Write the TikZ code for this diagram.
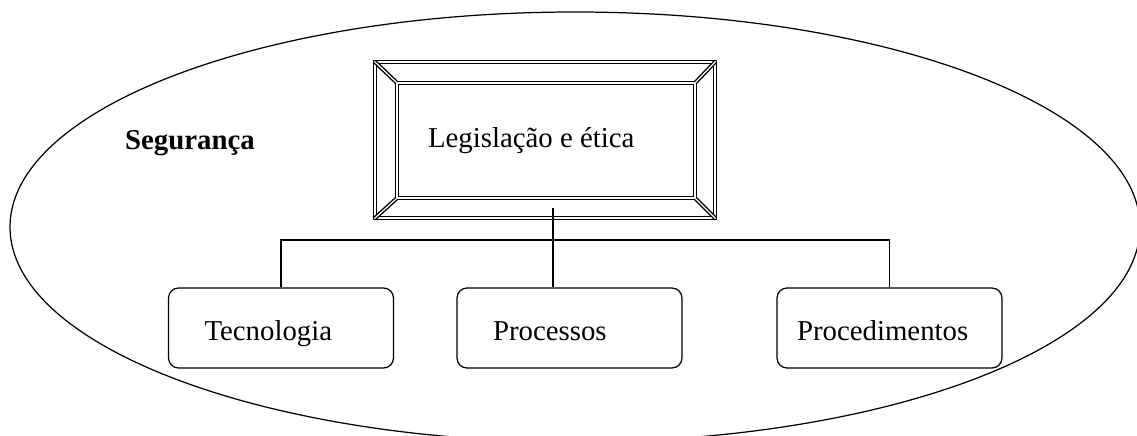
\documentclass[tikz,border=0pt]{standalone}
\usepackage{fontspec}
\setmainfont{Liberation Serif}
\usetikzlibrary{positioning}

% text set flush left inside a box of given width
\newcommand{\lefttext}[2]{\makebox[#1][l]{#2}}

\tikzset{
  frameline/.style={draw=black, double=white, double distance=0.7pt, line width=0.8pt},
  leaf/.style={draw, line width=0.7pt, rounded corners=0.2cm, minimum height=1.6cm,
    inner xsep=0.72cm, text height=0.6cm, text depth=0.1cm},
}

\begin{document}
\begin{tikzpicture}[x=0.02cm, y=-0.02cm, font=\fontsize{16.4}{19}\selectfont]
      \useasboundingbox (0,0) rectangle (1137,436);
      \clip (0,0) rectangle (1137,436);
      % outer ellipse
      \draw[line width=0.7pt] (575,227) ellipse [x radius=565, y radius=215];
      \node[font=\fontsize{16.4}{19}\selectfont\bfseries, anchor=base] (seg) at (190,149) {Segurança};
      % bevelled frame
      \node[frameline, minimum width=6.8cm, minimum height=3.12cm] (leg) at (545,140) {};
      \node[frameline, minimum width=5.96cm, minimum height=2.3cm, inner xsep=0.62cm,
        text height=0.4cm, text depth=0.1cm] (legin) at (546,140.5) {\lefttext{4.72cm}{Legislação e ética}};
      \foreach \c in {north west, north east, south west, south east}
        \draw[frameline] (leg.\c) -- (legin.\c);
      % the three boxes
      \node[leaf] (tec) at (281,328) {\lefttext{3.06cm}{Tecnologia}};
      \node[leaf] (pro) at (569.5,328) {\lefttext{3.06cm}{Processos}};
      \node[leaf, inner xsep=0.4cm] (proc) at (889.5,328) {\lefttext{3.7cm}{Procedimentos}};
      % connectors
      \coordinate (stem) at (553,208);
      \coordinate (bus) at (553,240);
      \draw[line width=0.7pt] (tec.north) |- (bus) -| (proc.north);
      \draw[line width=0.7pt] (stem) -- (stem |- pro.north);
    \end{tikzpicture}
\end{document}
